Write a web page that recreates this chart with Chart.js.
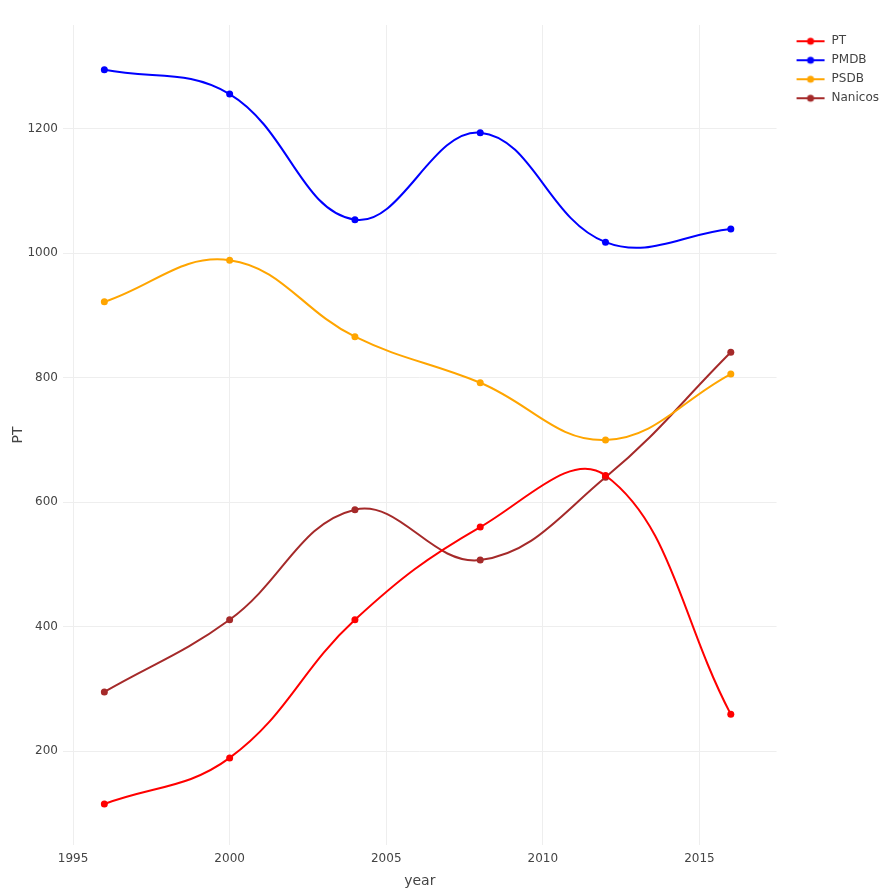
<!DOCTYPE html>
<html>
<head>
<meta charset="utf-8">
<script src="https://cdn.jsdelivr.net/npm/chart.js@4/dist/chart.umd.min.js"></script>
<style>
  html, body { margin: 0; padding: 0; background: #fff; }
  #wrap { width: 896px; height: 890px; }
</style>
</head>
<body>
<div id="wrap"><canvas id="chart" width="896" height="890"></canvas></div>
<script>
const years = [1996, 2000, 2004, 2008, 2012, 2016];
const pt = [115, 189, 411, 560, 643, 259];
const pmdb = [1295, 1256, 1054, 1194, 1018, 1039];
const psdb = [922, 989, 866, 792, 700, 806];
const nanicos = [295, 411, 588, 507, 640, 841];

const xTicks = [1995, 2000, 2005, 2010, 2015];
const yTicks = [200, 400, 600, 800, 1000, 1200];

const names = ['PT', 'PMDB', 'PSDB', 'Nanicos'];
const colors = ['red', 'blue', 'orange', 'brown'];
const seriesList = [pt, pmdb, psdb, nanicos];

// legend symbol: short line with a dot in the middle (blank margin on the left)
function legendIcon(color) {
    const c = document.createElement('canvas');
    c.width = 42; c.height = 10;
    const g = c.getContext('2d');
    g.strokeStyle = color; g.lineWidth = 2;
    g.beginPath(); g.moveTo(13, 5); g.lineTo(41, 5); g.stroke();
    g.fillStyle = color;
    g.beginPath(); g.arc(27, 5, 3.5, 0, Math.PI * 2); g.fill();
    return c;
}

const datasets = seriesList.map((s, i) => ({
    label: names[i],
    data: years.map((yr, j) => ({x: yr, y: s[j]})),
    borderColor: colors[i],
    backgroundColor: colors[i],
    borderWidth: 2,
    pointRadius: 3.5,
    pointBorderWidth: 0,
    pointStyle: 'circle',
    tension: 0.4
}));

const tickFont = {family: 'DejaVu Sans', size: 12};
const gridColor = '#eeeeee';

new Chart(document.querySelector('#chart').getContext('2d'), {
    type: 'line',
    data: {datasets: datasets},
    options: {
        responsive: false,
        animation: false,
        layout: {padding: {top: 25, right: 7, bottom: 0, left: 0}},
        plugins: {
            legend: {
                position: 'right',
                align: 'start',
                title: {display: true, text: '', font: {size: 1}, padding: {top: 2, bottom: 0}},
                labels: {
                    usePointStyle: true,
                    pointStyleWidth: 42,
                    padding: 7,
                    color: '#444',
                    font: tickFont,
                    generateLabels: (chart) => chart.data.datasets.map((d, i) => ({
                        text: d.label,
                        pointStyle: legendIcon(d.borderColor),
                        fillStyle: d.borderColor,
                        strokeStyle: d.borderColor,
                        fontColor: '#444',
                        lineWidth: 0,
                        datasetIndex: i
                    }))
                }
            },
            tooltip: {enabled: false}
        },
        scales: {
            x: {
                type: 'linear',
                min: 1994.68,
                max: 2017.46,
                border: {display: false},
                grid: {color: gridColor, drawTicks: false},
                ticks: {color: '#444', font: tickFont, padding: 7, maxRotation: 0, callback: (v) => String(v)},
                afterBuildTicks: (s) => { s.ticks = xTicks.map(v => ({value: v})); },
                afterFit: (s) => { s.height = 45; },
                title: {display: true, text: 'year', color: '#444', font: {family: 'DejaVu Sans', size: 14}, padding: 0}
            },
            y: {
                min: 49,
                max: 1367,
                border: {display: false},
                grid: {color: gridColor, drawTicks: false},
                ticks: {color: '#444', font: tickFont, padding: 5, callback: (v) => String(v)},
                afterBuildTicks: (s) => { s.ticks = yTicks.map(v => ({value: v})); },
                afterFit: (s) => { s.width = 63; },
                title: {display: true, text: 'PT', color: '#444', font: {family: 'DejaVu Sans', size: 14}, padding: {top: 10}}
            }
        }
    }
});
</script>
</body>
</html>
